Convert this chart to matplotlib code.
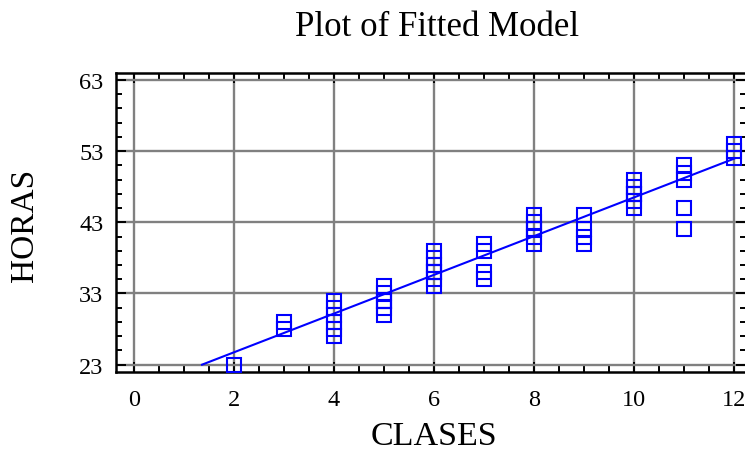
import numpy as np
import matplotlib.pyplot as plt
from matplotlib.ticker import MultipleLocator, FixedLocator

# Datos
clases = [2, 3, 3,
          4, 4, 4, 4, 4, 4,
          5, 5, 5, 5, 5, 5,
          6, 6, 6, 6, 6, 6, 6,
          7, 7, 7, 7,
          8, 8, 8, 8, 8, 8,
          9, 9, 9, 9,
          10, 10, 10, 10, 10, 10,
          11, 11, 11, 11, 11,
          12, 12, 12]
horas = [23, 28, 29,
         27, 28, 29, 30, 31, 32,
         30, 31, 32, 32, 33, 34,
         34, 35, 36, 36, 37, 38, 39,
         35, 36, 39, 40,
         40, 41, 42, 42, 43, 44,
         40, 41, 42, 44,
         45, 46, 47, 47, 48, 49,
         42, 45, 49, 50, 51,
         52, 53, 54]

# Modelo ajustado
intercepto = 19.3
pendiente = 2.72

x_ticks = [0, 2, 4, 6, 8, 10, 12]
y_ticks = [23, 33, 43, 53, 63]

plt.rcParams['font.family'] = ['Liberation Serif', 'DejaVu Serif']

fig = plt.figure(figsize=(7.45, 4.52), dpi=100)
ax = fig.add_axes([116 / 745, 1 - 373 / 452, 630 / 745, 299 / 452])

azul = '#0000ff'

# Linea ajustada, desde y=23 hasta x=12
x0 = (y_ticks[0] - intercepto) / pendiente
xl = np.linspace(x0, 12, 50)
ax.plot(xl, intercepto + pendiente * xl, color=azul, lw=1.5, zorder=3)

# Observaciones
ax.plot(clases, horas, linestyle='none', marker='s', ms=9.5,
        mfc='none', mec=azul, mew=1.5, zorder=4)

ax.set_xlim(-0.36, 12.24)
ax.set_ylim(21.97, 63.98)

ax.xaxis.set_major_locator(FixedLocator(x_ticks))
ax.xaxis.set_minor_locator(MultipleLocator(0.5))
ax.yaxis.set_major_locator(FixedLocator(y_ticks))
ax.yaxis.set_minor_locator(FixedLocator(np.arange(23, 64, 2)))

ax.grid(True, which='major', color='#808080', lw=1.7, zorder=1)
ax.set_axisbelow(True)

for s in ax.spines.values():
    s.set_linewidth(1.8)
    s.set_color('black')

ax.tick_params(which='both', direction='in', top=True, right=True,
               width=1.4, labelsize=17.5)
ax.tick_params(which='major', length=7)
ax.tick_params(which='minor', length=4)
ax.tick_params(axis='y', pad=9)
ax.tick_params(axis='x', pad=12)

fig.text(437 / 745, 1 - 27 / 452, 'Plot of Fitted Model', fontsize=25,
         ha='center', va='center')
fig.text(434 / 745, 1 - 437 / 452, 'CLASES', fontsize=24.5,
         ha='center', va='center')
fig.text(25 / 745, 1 - 225 / 452, 'HORAS', fontsize=24, rotation=90,
         ha='center', va='center')

fig.savefig('out.png', dpi=100)
